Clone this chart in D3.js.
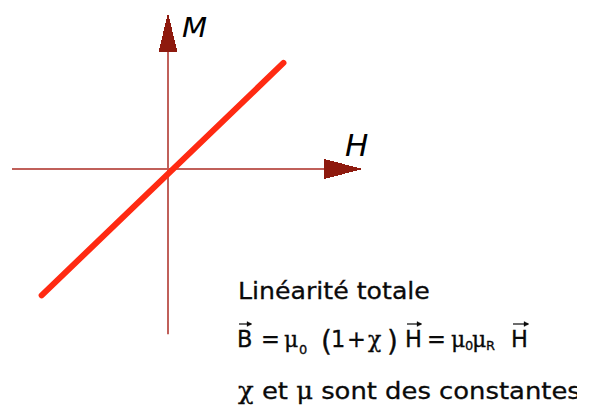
<!DOCTYPE html>
<html>
<head>
<meta charset="utf-8">
<script src="https://cdn.jsdelivr.net/npm/d3@7"></script>
<style>
  html, body { margin: 0; padding: 0; background: #fff; }
  svg { display: block; }
</style>
</head>
<body>
<svg id="chart" width="595" height="416"></svg>
<script>
// Linear magnetisation curve M = χH (axes in reduced units)
const axisH = [-1, 1];          // horizontal axis extent (H)
const axisM = [-1.06, 0.75];    // vertical axis extent (M)
const arrowTipH = 1.25;         // H arrow tip
const arrowTipM = 1.0;          // M arrow tip
const curveH = [-0.81, 0.74];   // line end points, H
const curveM = [-0.81, 0.68];   // line end points, M
const axisLabels = ["H", "M"];
const captionLines = ["Linéarité totale", "χ et μ sont des constantes"];

const svg = d3.select("#chart");
const x = d3.scaleLinear().domain([-1, 1]).range([12, 324]);
const y = d3.scaleLinear().domain([-1, 1]).range([325, 13]);

const axisColor = "#c0605a";
const headColor = "#8e1a0e";
const ink = "#0a0a0a";

// axes
svg.append("line")
  .attr("x1", x(axisH[0])).attr("x2", x(axisH[1]))
  .attr("y1", y(0)).attr("y2", y(0))
  .attr("stroke", axisColor).attr("stroke-width", 2);
svg.append("line")
  .attr("x1", x(0)).attr("x2", x(0))
  .attr("y1", y(axisM[0])).attr("y2", y(axisM[1]))
  .attr("stroke", axisColor).attr("stroke-width", 2);

// arrow heads
const hx0 = x(axisH[1]), hx1 = x(arrowTipH), hy = y(0);
svg.append("polygon")
  .attr("points", [[hx0, hy - 10], [hx1, hy], [hx0, hy + 10]].join(" "))
  .attr("fill", headColor).attr("shape-rendering", "crispEdges");
const vy0 = y(axisM[1]), vy1 = y(arrowTipM), vx = x(0);
svg.append("polygon")
  .attr("points", [[vx - 9.5, vy0], [vx, vy1], [vx + 9.5, vy0]].join(" "))
  .attr("fill", headColor).attr("shape-rendering", "crispEdges");

// axis labels
svg.append("text").text(axisLabels[0])
  .attr("x", 345).attr("y", 156)
  .attr("font-family", "DejaVu Sans").attr("font-style", "italic")
  .attr("font-size", 31).attr("fill", "#000");
svg.append("text").text(axisLabels[1])
  .attr("x", 182).attr("y", 37)
  .attr("font-family", "DejaVu Sans").attr("font-style", "italic")
  .attr("font-size", 26).attr("fill", "#000")
  .attr("transform", "translate(182,0) scale(1.12,1) translate(-182,0)");

// the linear response
svg.append("path")
  .datum(curveH.map((h, i) => [h, curveM[i]]))
  .attr("d", d3.line().x(d => x(d[0])).y(d => y(d[1])))
  .attr("stroke", "#ff2a12").attr("stroke-width", 6)
  .attr("stroke-linecap", "round").attr("fill", "none");

// caption
const sans = "Tahoma, 'DejaVu Sans', sans-serif";
const serif = "'DejaVu Serif', serif";

function stretch(sel, x0, width) {
  const w = sel.node().getBBox().width;
  sel.attr("transform", `translate(${x0},0) scale(${width / w},1)`);
}

const l1 = svg.append("text").text(captionLines[0])
  .attr("x", 0).attr("y", 299)
  .attr("font-family", sans).attr("font-size", 23.5)
  .attr("fill", ink).attr("stroke", ink).attr("stroke-width", 0.3);
stretch(l1, 238, 192);

// formula, piece by piece
const formula = svg.append("g").attr("fill", ink)
  .attr("stroke", ink).attr("stroke-width", 0.3);
const pieces = [
  { t: "B", x: 237, f: sans, s: 22.5, dy: 0, vec: true, w: 16 },
  { t: "=", x: 261, f: sans, s: 22.5, dy: 0 },
  { t: "μ", x: 284, f: serif, s: 22, dy: 0 },
  { t: "0", x: 299, f: sans, s: 13, dy: 7 },
  { t: "(", x: 321, f: sans, s: 28, dy: 4 },
  { t: "1", x: 331, f: sans, s: 22.5, dy: 0 },
  { t: "+", x: 347, f: sans, s: 22.5, dy: 0 },
  { t: "χ", x: 368, f: serif, s: 22, dy: 0 },
  { t: ")", x: 387, f: sans, s: 28, dy: 4 },
  { t: "H", x: 405, f: sans, s: 22.5, dy: 0, vec: true, w: 18 },
  { t: "=", x: 427, f: sans, s: 22.5, dy: 0 },
  { t: "μ", x: 451, f: serif, s: 22, dy: 0 },
  { t: "0", x: 465, f: sans, s: 13, dy: 3 },
  { t: "μ", x: 472, f: serif, s: 22, dy: 0 },
  { t: "R", x: 486, f: sans, s: 13, dy: 3 },
  { t: "H", x: 511, f: sans, s: 22.5, dy: 0, vec: true, w: 19 }
];
const base2 = 347;
pieces.forEach(p => {
  formula.append("text").text(p.t)
    .attr("x", p.x).attr("y", base2 + p.dy)
    .attr("font-family", p.f).attr("font-size", p.s);
  if (p.vec) {
    const ax0 = p.x + 2, ax1 = p.x + p.w - 2, ay = 324;
    formula.append("line")
      .attr("x1", ax0).attr("x2", ax1).attr("y1", ay).attr("y2", ay)
      .attr("stroke-width", 1.2);
    formula.append("path")
      .attr("d", `M${ax1 + 1},${ay} L${ax1 - 4},${ay - 2.5} L${ax1 - 4},${ay + 2.5} Z`);
  }
});

// last line, clipped on the right
svg.append("clipPath").attr("id", "clip3")
  .append("rect").attr("x", 0).attr("y", 360).attr("width", 577).attr("height", 56);
const g3 = svg.append("g").attr("clip-path", "url(#clip3)");
const l3 = g3.append("text").attr("x", 0).attr("y", 399)
  .attr("font-family", sans).attr("font-size", 23.5)
  .attr("fill", ink).attr("stroke", ink).attr("stroke-width", 0.3);
const parts3 = captionLines[1].split(/(χ|μ)/).filter(s => s.length);
parts3.forEach(s => {
  l3.append("tspan").text(s)
    .attr("font-family", (s === "χ" || s === "μ") ? serif : sans);
});
stretch(l3, 238, 343);
</script>
</body>
</html>
